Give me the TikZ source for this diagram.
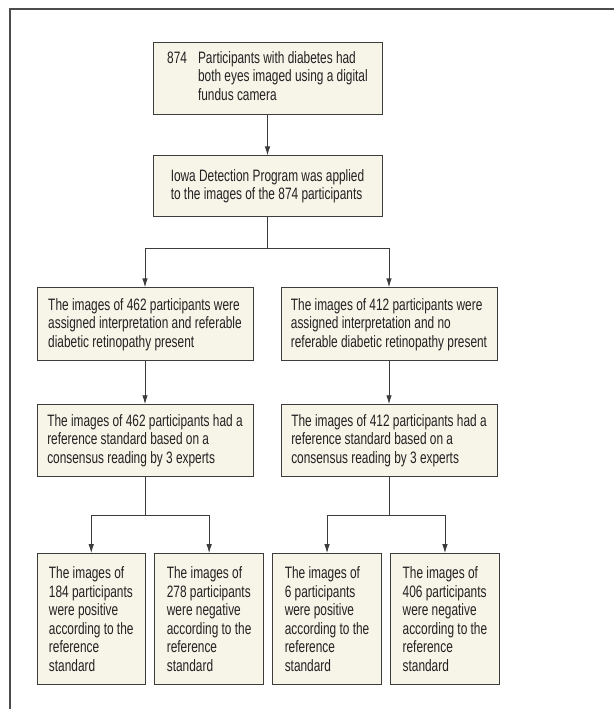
\documentclass[tikz,border=0pt]{standalone}
\usepackage{fontspec}
\setmainfont{Liberation Sans}[FakeStretch=0.72]
\usepackage{xcolor}
\usetikzlibrary{positioning, chains, arrows.meta}
\definecolor{boxfill}{HTML}{F7F4E8}
\definecolor{boxline}{HTML}{3C3C3C}
\definecolor{boxtext}{HTML}{222222}

\begin{document}
\begin{tikzpicture}[x=1pt, y=1pt,
    flowbox/.style={
      rectangle,
      draw=boxline,
      fill=boxfill,
      line width=0.9pt,
      text=boxtext,
      align=left,
      font=\fontsize{16.5}{18.5}\selectfont,
      inner sep=0pt
    },
    mainbox/.style={flowbox, minimum width=216pt, minimum height=73pt},
    leafbox/.style={flowbox, minimum width=108.5pt, minimum height=131pt, on chain},
    >={Latex[length=9pt,width=5.5pt]},
    node distance=8.5pt,
    start chain=going right]
  \useasboundingbox (0,0) rectangle (614,-709);
  \draw[line width=1.3pt, black!70] (614,-9) -- (10,-9) -- (10,-709);

  \node[flowbox, minimum width=229pt, minimum height=72pt] (participants) at (267.5,-78)
    {\begin{tabular}{@{}l@{\hspace{11pt}}l@{}}
      874 & Participants with diabetes had\\
          & both eyes imaged using a digital\\
          & fundus camera
    \end{tabular}};
  \node[flowbox, minimum width=229pt, minimum height=61pt, below=41pt of participants] (program)
    {Iowa Detection Program was applied\\to the images of the 874 participants};
  \node[mainbox, below=70pt of program, xshift=-122.5pt] (referable)
    {The images of 462 participants were\\assigned interpretation and referable\\diabetic retinopathy present};
  \node[mainbox, below=70pt of program, xshift=121.5pt] (nonreferable)
    {The images of 412 participants were\\assigned interpretation and no\\referable diabetic retinopathy present};
  \node[mainbox, minimum height=72pt, below=43pt of referable] (consensusA)
    {The images of 462 participants had a\\reference standard based on a\\consensus reading by 3 experts};
  \node[mainbox, minimum height=72pt, below=43pt of nonreferable] (consensusB)
    {The images of 412 participants had a\\reference standard based on a\\consensus reading by 3 experts};

  % leaves
  \node[leafbox, below right=76pt and 0pt of consensusA.south west] (pos184)
    {The images of\\184 participants\\were positive\\according to the\\reference\\standard};
  \node[leafbox] (neg278)
    {The images of\\278 participants\\were negative\\according to the\\reference\\standard};
  \node[leafbox] (pos6)
    {The images of\\6 participants\\were positive\\according to the\\reference\\standard};
  \node[leafbox] (neg406)
    {The images of\\406 participants\\were negative\\according to the\\reference\\standard};

  \coordinate[below=31pt of program] (split);
  \coordinate[below=38pt of consensusA] (splitA);
  \coordinate[below=38pt of consensusB] (splitB);

  \draw[boxline, line width=0.9pt, ->] (participants) -- (program);
  \draw[boxline, line width=0.9pt] (program) -- (split);
  \draw[boxline, line width=0.9pt, ->] (split) -| (referable);
  \draw[boxline, line width=0.9pt, ->] (split) -| (nonreferable);
  \draw[boxline, line width=0.9pt, ->] (referable) -- (consensusA);
  \draw[boxline, line width=0.9pt, ->] (nonreferable) -- (consensusB);
  \draw[boxline, line width=0.9pt] (consensusA) -- (splitA);
  \draw[boxline, line width=0.9pt, ->] (splitA) -| (pos184);
  \draw[boxline, line width=0.9pt, ->] (splitA) -| (neg278);
  \draw[boxline, line width=0.9pt] (consensusB) -- (splitB);
  \draw[boxline, line width=0.9pt, ->] (splitB) -| (pos6);
  \draw[boxline, line width=0.9pt, ->] (splitB) -| (neg406);
\end{tikzpicture}
\end{document}
